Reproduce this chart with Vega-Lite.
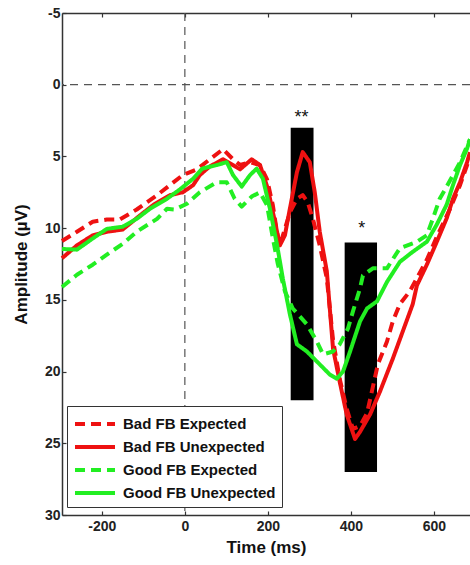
{
  "$schema": "https://vega.github.io/schema/vega-lite/v6.json",
  "width": 408,
  "height": 502,
  "autosize": {"type": "none"},
  "padding": {"left": 62, "top": 13, "right": 0, "bottom": 50},
  "background": "white",
  "config": {
    "view": {"stroke": null},
    "font": "Liberation Sans",
    "axis": {"domainColor": "#333", "tickColor": "#333", "domainWidth": 1.5, "tickWidth": 1.2, "grid": false,
      "labelFont": "Liberation Sans", "labelFontSize": 14, "labelFontWeight": "bold", "labelColor": "#222",
      "labelExpr": "replace(datum.label, '−', '-')",
      "titleFont": "Liberation Sans", "titleFontSize": 17, "titleFontWeight": "bold", "titleColor": "#111"}
  },
  "datasets": {
    "erp": [
      {"t": -296, "a": 10.9, "s": "Bad FB Expected"},
      {"t": -260, "a": 10.25, "s": "Bad FB Expected"},
      {"t": -222, "a": 9.55, "s": "Bad FB Expected"},
      {"t": -188, "a": 9.4, "s": "Bad FB Expected"},
      {"t": -157, "a": 9.4, "s": "Bad FB Expected"},
      {"t": -116, "a": 8.7, "s": "Bad FB Expected"},
      {"t": -67, "a": 7.7, "s": "Bad FB Expected"},
      {"t": -36, "a": 7.0, "s": "Bad FB Expected"},
      {"t": -5, "a": 6.3, "s": "Bad FB Expected"},
      {"t": 29, "a": 5.9, "s": "Bad FB Expected"},
      {"t": 60, "a": 5.2, "s": "Bad FB Expected"},
      {"t": 92, "a": 4.5, "s": "Bad FB Expected"},
      {"t": 116, "a": 5.2, "s": "Bad FB Expected"},
      {"t": 133, "a": 5.6, "s": "Bad FB Expected"},
      {"t": 157, "a": 5.4, "s": "Bad FB Expected"},
      {"t": 181, "a": 5.6, "s": "Bad FB Expected"},
      {"t": 198, "a": 6.6, "s": "Bad FB Expected"},
      {"t": 212, "a": 8.4, "s": "Bad FB Expected"},
      {"t": 222, "a": 10.3, "s": "Bad FB Expected"},
      {"t": 229, "a": 11.2, "s": "Bad FB Expected"},
      {"t": 253, "a": 8.9, "s": "Bad FB Expected"},
      {"t": 270, "a": 7.95, "s": "Bad FB Expected"},
      {"t": 284, "a": 7.7, "s": "Bad FB Expected"},
      {"t": 296, "a": 8.2, "s": "Bad FB Expected"},
      {"t": 308, "a": 9.3, "s": "Bad FB Expected"},
      {"t": 325, "a": 11.2, "s": "Bad FB Expected"},
      {"t": 342, "a": 13.5, "s": "Bad FB Expected"},
      {"t": 357, "a": 17.8, "s": "Bad FB Expected"},
      {"t": 373, "a": 20.5, "s": "Bad FB Expected"},
      {"t": 390, "a": 22.6, "s": "Bad FB Expected"},
      {"t": 405, "a": 24.0, "s": "Bad FB Expected"},
      {"t": 422, "a": 23.8, "s": "Bad FB Expected"},
      {"t": 439, "a": 22.9, "s": "Bad FB Expected"},
      {"t": 465, "a": 19.5, "s": "Bad FB Expected"},
      {"t": 487, "a": 17.9, "s": "Bad FB Expected"},
      {"t": 501, "a": 16.5, "s": "Bad FB Expected"},
      {"t": 518, "a": 15.3, "s": "Bad FB Expected"},
      {"t": 542, "a": 14.4, "s": "Bad FB Expected"},
      {"t": 583, "a": 12.2, "s": "Bad FB Expected"},
      {"t": 607, "a": 10.6, "s": "Bad FB Expected"},
      {"t": 639, "a": 8.65, "s": "Bad FB Expected"},
      {"t": 663, "a": 7.0, "s": "Bad FB Expected"},
      {"t": 680, "a": 5.6, "s": "Bad FB Expected"},
      {"t": 687, "a": 5.0, "s": "Bad FB Expected"},

      {"t": -296, "a": 12.1, "s": "Bad FB Unexpected"},
      {"t": -260, "a": 11.2, "s": "Bad FB Unexpected"},
      {"t": -222, "a": 10.5, "s": "Bad FB Unexpected"},
      {"t": -188, "a": 10.25, "s": "Bad FB Unexpected"},
      {"t": -150, "a": 10.1, "s": "Bad FB Unexpected"},
      {"t": -116, "a": 9.3, "s": "Bad FB Unexpected"},
      {"t": -77, "a": 8.4, "s": "Bad FB Unexpected"},
      {"t": -36, "a": 7.7, "s": "Bad FB Unexpected"},
      {"t": -5, "a": 7.5, "s": "Bad FB Unexpected"},
      {"t": 20, "a": 7.0, "s": "Bad FB Unexpected"},
      {"t": 36, "a": 6.3, "s": "Bad FB Unexpected"},
      {"t": 60, "a": 5.7, "s": "Bad FB Unexpected"},
      {"t": 92, "a": 5.2, "s": "Bad FB Unexpected"},
      {"t": 133, "a": 5.9, "s": "Bad FB Unexpected"},
      {"t": 161, "a": 5.2, "s": "Bad FB Unexpected"},
      {"t": 181, "a": 5.6, "s": "Bad FB Unexpected"},
      {"t": 200, "a": 7.25, "s": "Bad FB Unexpected"},
      {"t": 217, "a": 9.55, "s": "Bad FB Unexpected"},
      {"t": 229, "a": 11.2, "s": "Bad FB Unexpected"},
      {"t": 241, "a": 10.5, "s": "Bad FB Unexpected"},
      {"t": 253, "a": 8.65, "s": "Bad FB Unexpected"},
      {"t": 270, "a": 6.1, "s": "Bad FB Unexpected"},
      {"t": 284, "a": 4.7, "s": "Bad FB Unexpected"},
      {"t": 301, "a": 5.4, "s": "Bad FB Unexpected"},
      {"t": 313, "a": 7.5, "s": "Bad FB Unexpected"},
      {"t": 325, "a": 10.25, "s": "Bad FB Unexpected"},
      {"t": 342, "a": 13.0, "s": "Bad FB Unexpected"},
      {"t": 357, "a": 18.4, "s": "Bad FB Unexpected"},
      {"t": 373, "a": 20.7, "s": "Bad FB Unexpected"},
      {"t": 390, "a": 23.0, "s": "Bad FB Unexpected"},
      {"t": 410, "a": 24.7, "s": "Bad FB Unexpected"},
      {"t": 422, "a": 24.2, "s": "Bad FB Unexpected"},
      {"t": 446, "a": 23.0, "s": "Bad FB Unexpected"},
      {"t": 470, "a": 21.4, "s": "Bad FB Unexpected"},
      {"t": 501, "a": 19.1, "s": "Bad FB Unexpected"},
      {"t": 525, "a": 17.2, "s": "Bad FB Unexpected"},
      {"t": 549, "a": 15.3, "s": "Bad FB Unexpected"},
      {"t": 559, "a": 14.0, "s": "Bad FB Unexpected"},
      {"t": 583, "a": 12.55, "s": "Bad FB Unexpected"},
      {"t": 607, "a": 10.95, "s": "Bad FB Unexpected"},
      {"t": 631, "a": 9.3, "s": "Bad FB Unexpected"},
      {"t": 646, "a": 7.95, "s": "Bad FB Unexpected"},
      {"t": 663, "a": 6.8, "s": "Bad FB Unexpected"},
      {"t": 680, "a": 5.4, "s": "Bad FB Unexpected"},
      {"t": 687, "a": 4.7, "s": "Bad FB Unexpected"},

      {"t": -296, "a": 14.1, "s": "Good FB Expected"},
      {"t": -260, "a": 13.25, "s": "Good FB Expected"},
      {"t": -222, "a": 12.55, "s": "Good FB Expected"},
      {"t": -188, "a": 11.85, "s": "Good FB Expected"},
      {"t": -150, "a": 11.1, "s": "Good FB Expected"},
      {"t": -116, "a": 10.25, "s": "Good FB Expected"},
      {"t": -67, "a": 9.35, "s": "Good FB Expected"},
      {"t": -43, "a": 8.65, "s": "Good FB Expected"},
      {"t": -24, "a": 8.7, "s": "Good FB Expected"},
      {"t": 5, "a": 8.3, "s": "Good FB Expected"},
      {"t": 36, "a": 7.5, "s": "Good FB Expected"},
      {"t": 77, "a": 6.8, "s": "Good FB Expected"},
      {"t": 101, "a": 6.8, "s": "Good FB Expected"},
      {"t": 120, "a": 7.95, "s": "Good FB Expected"},
      {"t": 137, "a": 8.5, "s": "Good FB Expected"},
      {"t": 161, "a": 7.8, "s": "Good FB Expected"},
      {"t": 181, "a": 7.5, "s": "Good FB Expected"},
      {"t": 198, "a": 8.4, "s": "Good FB Expected"},
      {"t": 212, "a": 10.7, "s": "Good FB Expected"},
      {"t": 224, "a": 12.5, "s": "Good FB Expected"},
      {"t": 241, "a": 14.4, "s": "Good FB Expected"},
      {"t": 260, "a": 15.6, "s": "Good FB Expected"},
      {"t": 294, "a": 16.7, "s": "Good FB Expected"},
      {"t": 318, "a": 17.9, "s": "Good FB Expected"},
      {"t": 333, "a": 18.8, "s": "Good FB Expected"},
      {"t": 357, "a": 18.6, "s": "Good FB Expected"},
      {"t": 373, "a": 18.1, "s": "Good FB Expected"},
      {"t": 393, "a": 17.0, "s": "Good FB Expected"},
      {"t": 405, "a": 15.8, "s": "Good FB Expected"},
      {"t": 422, "a": 14.2, "s": "Good FB Expected"},
      {"t": 429, "a": 13.3, "s": "Good FB Expected"},
      {"t": 453, "a": 12.8, "s": "Good FB Expected"},
      {"t": 487, "a": 12.8, "s": "Good FB Expected"},
      {"t": 518, "a": 11.4, "s": "Good FB Expected"},
      {"t": 559, "a": 10.95, "s": "Good FB Expected"},
      {"t": 583, "a": 10.5, "s": "Good FB Expected"},
      {"t": 598, "a": 9.3, "s": "Good FB Expected"},
      {"t": 614, "a": 7.95, "s": "Good FB Expected"},
      {"t": 627, "a": 7.3, "s": "Good FB Expected"},
      {"t": 663, "a": 5.4, "s": "Good FB Expected"},
      {"t": 687, "a": 3.8, "s": "Good FB Expected"},

      {"t": -296, "a": 11.45, "s": "Good FB Unexpected"},
      {"t": -260, "a": 11.5, "s": "Good FB Unexpected"},
      {"t": -226, "a": 10.8, "s": "Good FB Unexpected"},
      {"t": -188, "a": 10.05, "s": "Good FB Unexpected"},
      {"t": -150, "a": 9.9, "s": "Good FB Unexpected"},
      {"t": -116, "a": 9.35, "s": "Good FB Unexpected"},
      {"t": -84, "a": 8.65, "s": "Good FB Unexpected"},
      {"t": -43, "a": 7.95, "s": "Good FB Unexpected"},
      {"t": -12, "a": 7.3, "s": "Good FB Unexpected"},
      {"t": 20, "a": 6.55, "s": "Good FB Unexpected"},
      {"t": 42, "a": 5.85, "s": "Good FB Unexpected"},
      {"t": 77, "a": 5.6, "s": "Good FB Unexpected"},
      {"t": 101, "a": 5.4, "s": "Good FB Unexpected"},
      {"t": 116, "a": 6.3, "s": "Good FB Unexpected"},
      {"t": 137, "a": 7.1, "s": "Good FB Unexpected"},
      {"t": 157, "a": 6.3, "s": "Good FB Unexpected"},
      {"t": 173, "a": 5.85, "s": "Good FB Unexpected"},
      {"t": 188, "a": 6.55, "s": "Good FB Unexpected"},
      {"t": 205, "a": 8.65, "s": "Good FB Unexpected"},
      {"t": 222, "a": 11.15, "s": "Good FB Unexpected"},
      {"t": 236, "a": 13.5, "s": "Good FB Unexpected"},
      {"t": 253, "a": 16.0, "s": "Good FB Unexpected"},
      {"t": 270, "a": 18.1, "s": "Good FB Unexpected"},
      {"t": 294, "a": 18.6, "s": "Good FB Unexpected"},
      {"t": 325, "a": 19.5, "s": "Good FB Unexpected"},
      {"t": 349, "a": 20.2, "s": "Good FB Unexpected"},
      {"t": 366, "a": 20.5, "s": "Good FB Unexpected"},
      {"t": 381, "a": 20.0, "s": "Good FB Unexpected"},
      {"t": 398, "a": 18.6, "s": "Good FB Unexpected"},
      {"t": 422, "a": 16.5, "s": "Good FB Unexpected"},
      {"t": 439, "a": 15.6, "s": "Good FB Unexpected"},
      {"t": 463, "a": 15.1, "s": "Good FB Unexpected"},
      {"t": 487, "a": 13.75, "s": "Good FB Unexpected"},
      {"t": 518, "a": 12.35, "s": "Good FB Unexpected"},
      {"t": 549, "a": 11.65, "s": "Good FB Unexpected"},
      {"t": 583, "a": 10.95, "s": "Good FB Unexpected"},
      {"t": 607, "a": 9.75, "s": "Good FB Unexpected"},
      {"t": 631, "a": 8.35, "s": "Good FB Unexpected"},
      {"t": 646, "a": 7.0, "s": "Good FB Unexpected"},
      {"t": 663, "a": 5.6, "s": "Good FB Unexpected"},
      {"t": 680, "a": 4.45, "s": "Good FB Unexpected"},
      {"t": 687, "a": 3.8, "s": "Good FB Unexpected"}
    ],
    "bars": [
      {"t0": 255, "t1": 310, "a0": 3, "a1": 22},
      {"t0": 385, "t1": 463, "a0": 11, "a1": 27}
    ],
    "stars": [
      {"t": 281, "a": 2.7, "label": "**"},
      {"t": 426, "a": 10.4, "label": "*"}
    ]
  },
  "layer": [
    {
      "data": {"values": [{"z": 0}]},
      "mark": {"type": "rule", "color": "#555", "strokeDash": [8, 6], "strokeWidth": 1.2},
      "encoding": {
        "y": {"field": "z", "type": "quantitative", "title": "Amplitude (µV)",
          "scale": {"domain": [-5, 30], "reverse": true, "nice": false, "zero": false},
          "axis": {"values": [-5, 0, 5, 10, 15, 20, 25, 30], "tickSize": -4, "labelPadding": 6, "titlePadding": 14}}
      }
    },
    {
      "data": {"values": [{"z": 0}]},
      "mark": {"type": "rule", "color": "#555", "strokeDash": [8, 6], "strokeWidth": 1.2},
      "encoding": {
        "x": {"field": "z", "type": "quantitative", "axis": null,
          "scale": {"domain": [-296, 687], "nice": false, "zero": false}}
      }
    },
    {
      "data": {"name": "bars"},
      "mark": {"type": "rect", "color": "black"},
      "encoding": {
        "x": {"field": "t0", "type": "quantitative", "title": null,
          "axis": {"orient": "top", "labels": false, "values": [-200, 0, 200, 400, 600], "tickSize": -4, "title": null}},
        "x2": {"field": "t1"},
        "y": {"field": "a0", "type": "quantitative", "title": "Amplitude (µV)"},
        "y2": {"field": "a1"}
      }
    },
    {
      "data": {"name": "erp"},
      "mark": {"type": "line", "strokeWidth": 4, "strokeCap": "butt", "strokeJoin": "round"},
      "encoding": {
        "x": {"field": "t", "type": "quantitative", "title": "Time (ms)",
          "axis": {"orient": "bottom", "values": [-200, 0, 200, 400, 600], "tickSize": -4, "labelPadding": 8, "titlePadding": 6}},
        "y": {"field": "a", "type": "quantitative", "title": "Amplitude (µV)"},
        "color": {"field": "s", "type": "nominal",
          "scale": {"domain": ["Bad FB Expected", "Bad FB Unexpected", "Good FB Expected", "Good FB Unexpected"],
                    "range": ["#ee1111", "#ee1111", "#22ee22", "#22ee22"]},
          "legend": {"orient": "none", "legendX": 5, "legendY": 393, "title": null,
            "symbolType": "M-1,0H3", "symbolSize": 400, "symbolStrokeWidth": 4,
            "labelFont": "Liberation Sans", "labelFontSize": 15, "labelFontWeight": "bold", "labelColor": "#111", "labelOffset": 26,
            "strokeColor": "#333", "fillColor": "white", "padding": 6, "rowPadding": 3}},
        "strokeDash": {"field": "s", "type": "nominal",
          "scale": {"domain": ["Bad FB Expected", "Bad FB Unexpected", "Good FB Expected", "Good FB Unexpected"],
                    "range": [[10, 6], [1, 0], [10, 6], [1, 0]]},
          "legend": {"orient": "none", "legendX": 5, "legendY": 393, "title": null,
            "symbolType": "M-1,0H3", "symbolSize": 400, "symbolStrokeWidth": 4,
            "labelFont": "Liberation Sans", "labelFontSize": 15, "labelFontWeight": "bold", "labelColor": "#111", "labelOffset": 26,
            "strokeColor": "#333", "fillColor": "white", "padding": 6, "rowPadding": 3}}
      }
    },
    {
      "data": {"name": "stars"},
      "mark": {"type": "text", "fontSize": 18, "color": "#111", "baseline": "alphabetic", "align": "center"},
      "encoding": {
        "x": {"field": "t", "type": "quantitative", "axis": null},
        "y": {"field": "a", "type": "quantitative", "title": "Amplitude (µV)"},
        "text": {"field": "label"}
      }
    }
  ],
  "resolve": {"axis": {"x": "independent"}}
}
